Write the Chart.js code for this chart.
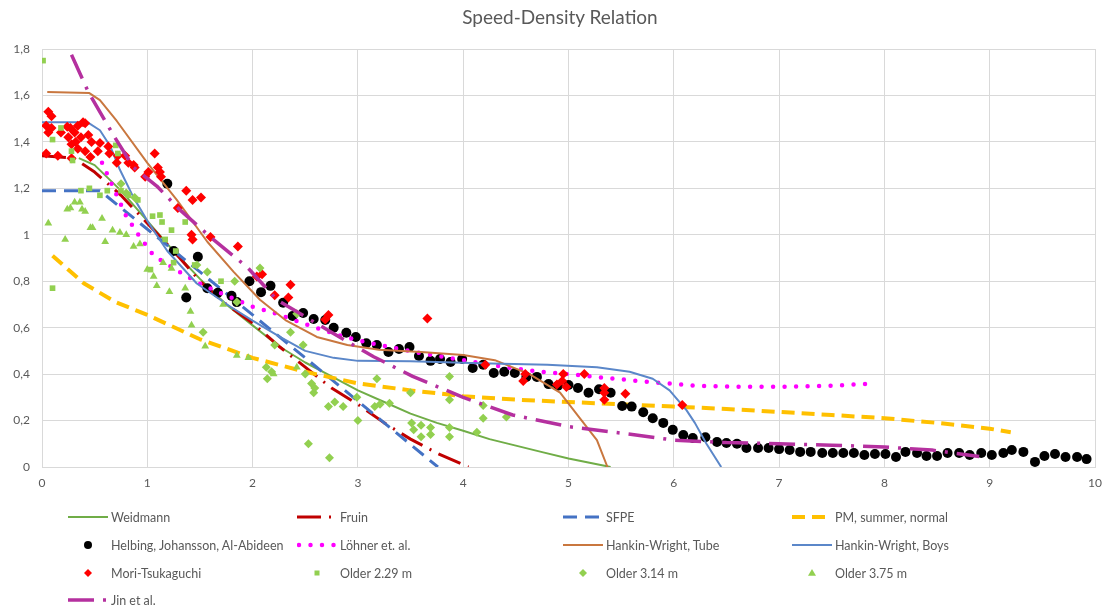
<!DOCTYPE html>
<html>
<head>
<meta charset="utf-8">
<title>Speed-Density Relation</title>
<script src="https://cdn.jsdelivr.net/npm/chart.js@4.4.1/dist/chart.umd.min.js"></script>
<style>
  html, body { margin: 0; padding: 0; background: #ffffff; }
  #wrap { position: relative; width: 1103px; height: 607px; font-family: Lato, "Open Sans", sans-serif; overflow: hidden; }
  #chart { position: absolute; left: 0; top: 0; }
  #title { position: absolute; left: 0; top: 5px; width: 1120px; text-align: center; font-size: 19px; color: #595959; }
  .leg { position: absolute; height: 16px; display: flex; align-items: center; font-size: 12.5px; color: #595959; white-space: nowrap; }
  .leg svg { flex: none; margin-right: 3px; }
</style>
</head>
<body>
<div id="wrap">
  <canvas id="chart" width="1103" height="607"></canvas>
  <div id="title">Speed-Density Relation</div>
  <div id="legend"></div>
</div>
<script>
// ---- axis ticks ----
const xTickLabels = ['0', '1', '2', '3', '4', '5', '6', '7', '8', '9', '10'];
const yTickLabels = ['0', '0,2', '0,4', '0,6', '0,8', '1', '1,2', '1,4', '1,6', '1,8'];

// ---- model curves: [density, speed] ----
const weidmann = [[0.35,1.33],[0.5,1.30],[0.75,1.19],[1,1.06],[1.25,0.93],[1.5,0.81],[1.75,0.70],[2,0.61],[2.25,0.52],[2.5,0.45],[2.75,0.39],[3,0.33],[3.25,0.28],[3.5,0.23],[3.75,0.19],[4,0.156],[4.25,0.12],[4.5,0.092],[4.75,0.064],[5,0.037],[5.2,0.018],[5.4,0]];
const fruin = [[0,1.34],[0.3,1.33],[0.5,1.27],[0.75,1.17],[1,1.05],[1.25,0.93],[1.5,0.80],[1.75,0.70],[2,0.62],[2.25,0.52],[2.5,0.43],[2.75,0.34],[3,0.27],[3.25,0.19],[3.5,0.12],[3.75,0.06],[4.05,0]];
const sfpe = [[0,1.19],[0.55,1.19],[1.5,0.84],[2.5,0.47],[3.76,0]];
const pmSummer = [[0.1,0.91],[0.4,0.79],[0.7,0.71],[1,0.655],[1.5,0.55],[2,0.47],[2.5,0.41],[3,0.36],[3.5,0.33],[4,0.305],[4.5,0.29],[5,0.28],[5.5,0.27],[6,0.26],[6.5,0.25],[7,0.237],[7.5,0.224],[8,0.21],[8.5,0.19],[9,0.165],[9.2,0.15]];
const lohner = [[0.57,1.31],[0.62,1.26],[0.7,1.18],[0.8,1.08],[0.93,0.99],[1.06,0.91],[1.2,0.87],[1.34,0.83],[1.5,0.79],[1.69,0.75],[2,0.69],[2.26,0.655],[2.5,0.615],[2.8,0.57],[3,0.545],[3.3,0.517],[3.6,0.49],[4,0.46],[4.4,0.43],[4.73,0.41],[5,0.40],[5.37,0.383],[5.8,0.365],[6.22,0.35],[6.6,0.346],[7,0.345],[7.5,0.35],[7.9,0.36]];
const hwTube = [[0.05,1.615],[0.45,1.61],[0.55,1.58],[0.71,1.49],[1,1.31],[1.28,1.15],[1.57,0.97],[1.82,0.84],[2.07,0.72],[2.32,0.63],[2.61,0.56],[2.9,0.525],[3.2,0.505],[3.6,0.495],[4,0.482],[4.3,0.46],[4.63,0.40],[4.92,0.32],[5.1,0.215],[5.27,0.116],[5.37,0]];
const hwBoys = [[0,1.485],[0.43,1.485],[0.55,1.45],[0.65,1.38],[0.74,1.28],[0.87,1.16],[1,1.06],[1.19,0.93],[1.47,0.79],[1.79,0.69],[2,0.63],[2.26,0.56],[2.5,0.50],[2.77,0.47],[3,0.457],[3.5,0.455],[4.16,0.447],[4.8,0.44],[5.27,0.43],[5.58,0.41],[5.8,0.38],[5.96,0.33],[6.12,0.245],[6.2,0.19],[6.31,0.10],[6.45,0]];
const jin = [[0.28,1.775],[0.44,1.615],[0.69,1.42],[0.87,1.29],[1.09,1.21],[1.31,1.107],[1.6,0.99],[1.95,0.86],[2.23,0.72],[2.76,0.577],[3.15,0.475],[3.52,0.39],[4,0.30],[4.47,0.224],[5,0.174],[5.5,0.146],[6,0.116],[6.5,0.105],[7,0.10],[7.5,0.094],[8,0.086],[8.45,0.073],[8.9,0.045]];

// ---- measured data: [density, speed] ----
const helbing = [[1.19,1.22],[1.25,0.93],[1.48,0.905],[1.37,0.73],[1.57,0.77],[1.67,0.75],[1.8,0.737],[1.85,0.71],[1.97,0.80],[2.08,0.753],[2.17,0.78],[2.29,0.707],[2.38,0.65],[2.48,0.663],[2.58,0.637],[2.69,0.633],[2.77,0.60],[2.89,0.578],[2.98,0.56],[3.08,0.533],[3.18,0.525],[3.29,0.495],[3.39,0.508],[3.49,0.517],[3.58,0.478],[3.69,0.457],[3.78,0.465],[3.88,0.452],[3.99,0.465],[4.09,0.426],[4.19,0.44],[4.29,0.405],[4.39,0.41],[4.49,0.405],[4.6,0.388],[4.7,0.388],[4.81,0.357],[4.9,0.35],[5.0,0.353],[5.09,0.34],[5.19,0.32],[5.29,0.335],[5.4,0.32],[5.51,0.263],[5.6,0.26],[5.71,0.236],[5.8,0.21],[5.9,0.19],[5.99,0.16],[6.09,0.138],[6.18,0.125],[6.3,0.128],[6.41,0.108],[6.5,0.103],[6.6,0.10],[6.69,0.082],[6.8,0.082],[6.9,0.082],[7.0,0.077],[7.1,0.073],[7.2,0.065],[7.3,0.065],[7.41,0.06],[7.51,0.06],[7.61,0.06],[7.71,0.06],[7.81,0.052],[7.91,0.056],[8.01,0.056],[8.11,0.043],[8.2,0.065],[8.31,0.06],[8.4,0.047],[8.5,0.047],[8.6,0.06],[8.71,0.06],[8.81,0.052],[8.92,0.06],[9.02,0.052],[9.13,0.06],[9.21,0.073],[9.32,0.065],[9.43,0.022],[9.52,0.047],[9.62,0.056],[9.72,0.043],[9.83,0.043],[9.92,0.034]];
const moriTsukaguchi = [[0.06,1.53],[0.09,1.51],[0.04,1.47],[0.09,1.46],[0.06,1.44],[0.18,1.44],[0.24,1.465],[0.27,1.46],[0.31,1.44],[0.34,1.47],[0.39,1.485],[0.41,1.48],[0.25,1.42],[0.28,1.39],[0.32,1.40],[0.37,1.42],[0.44,1.43],[0.47,1.40],[0.55,1.395],[0.34,1.37],[0.41,1.36],[0.46,1.335],[0.53,1.36],[0.63,1.38],[0.64,1.35],[0.04,1.35],[0.15,1.34],[0.28,1.33],[0.71,1.31],[0.72,1.34],[0.79,1.34],[0.82,1.31],[0.87,1.30],[0.88,1.29],[0.98,1.25],[1.01,1.27],[1.07,1.35],[1.1,1.29],[1.12,1.27],[1.13,1.25],[1.37,1.19],[1.43,1.15],[1.51,1.16],[1.29,1.115],[1.42,1.0],[1.43,0.98],[1.6,0.99],[1.86,0.95],[2.04,0.82],[2.09,0.83],[2.21,0.74],[2.36,0.785],[2.34,0.73],[2.72,0.655],[2.69,0.635],[3.66,0.64],[4.21,0.44],[4.59,0.40],[4.57,0.37],[4.95,0.40],[4.94,0.37],[4.89,0.355],[4.98,0.345],[5.15,0.40],[5.34,0.34],[5.34,0.32],[5.34,0.29],[5.54,0.315],[6.08,0.267]];
const older229 = [[0.01,1.75],[0.1,1.41],[0.18,1.46],[0.28,1.36],[0.29,1.32],[0.7,1.385],[0.72,1.35],[0.37,1.19],[0.45,1.2],[0.55,1.17],[0.62,1.19],[0.75,1.19],[0.82,1.17],[0.91,1.15],[1.05,1.08],[1.12,1.085],[1.14,1.055],[1.23,1.02],[1.36,1.055],[0.1,0.77],[1.17,0.98],[1.27,0.93],[1.03,0.85],[1.25,0.88],[1.45,0.87],[1.7,0.80]];
const older314 = [[0.75,1.22],[0.8,1.18],[0.88,1.16],[1.47,0.87],[1.57,0.84],[1.83,0.80],[1.85,0.71],[2.07,0.857],[2.42,0.66],[1.53,0.58],[2.21,0.525],[2.36,0.58],[2.48,0.525],[2.5,0.40],[2.13,0.43],[2.14,0.38],[2.18,0.41],[2.56,0.36],[2.58,0.32],[2.59,0.34],[2.72,0.26],[2.78,0.28],[2.86,0.26],[2.99,0.30],[3.0,0.2],[2.53,0.10],[2.73,0.04],[3.18,0.38],[3.16,0.26],[3.21,0.27],[3.3,0.275],[3.5,0.32],[3.87,0.39],[3.87,0.29],[4.19,0.265],[4.19,0.21],[4.41,0.215],[3.51,0.19],[3.53,0.16],[3.6,0.18],[3.6,0.13],[3.69,0.17],[3.69,0.14],[3.87,0.17],[3.87,0.13],[4.13,0.15]];
const older375 = [[0.06,1.05],[0.22,0.98],[0.24,1.11],[0.27,1.115],[0.31,1.14],[0.36,1.14],[0.38,1.11],[0.41,1.1],[0.46,1.03],[0.48,1.03],[0.57,1.07],[0.6,0.97],[0.67,1.02],[0.74,1.01],[0.8,1.0],[0.87,0.95],[0.93,0.96],[1.0,0.85],[1.06,0.82],[1.09,0.78],[1.21,0.755],[1.15,0.88],[1.23,0.855],[1.36,0.77],[1.41,0.67],[1.42,0.61],[1.55,0.52],[1.72,0.70],[1.85,0.48],[1.96,0.47],[2.2,0.40],[2.42,0.43]];

// ---- series styles ----
const series = [
  { label: 'Weidmann', data: weidmann, kind: 'line', color: '#70AD47', width: 2, dash: [] },
  { label: 'Fruin', data: fruin, kind: 'line', color: '#C00000', width: 3, dash: [24, 8, 2, 8] },
  { label: 'SFPE', data: sfpe, kind: 'line', color: '#4472C4', width: 3, dash: [14, 8] },
  { label: 'PM, summer, normal', data: pmSummer, kind: 'line', color: '#FFC000', width: 4, dash: [13, 7] },
  { label: 'Helbing, Johansson, Al-Abideen', data: helbing, kind: 'point', color: '#000000', shape: 'circle', radius: 5 },
  { label: 'Löhner et. al.', data: lohner, kind: 'dots', color: '#FF00FF', width: 4.5, dash: [0, 11.5] },
  { label: 'Hankin-Wright, Tube', data: hwTube, kind: 'line', color: '#C9773F', width: 2, dash: [] },
  { label: 'Hankin-Wright, Boys', data: hwBoys, kind: 'line', color: '#5B87C9', width: 2, dash: [] },
  { label: 'Mori-Tsukaguchi', data: moriTsukaguchi, kind: 'point', color: '#FF0000', shape: 'rectRot', radius: 5 },
  { label: 'Older 2.29 m', data: older229, kind: 'point', color: '#92D050', shape: 'rect', radius: 4 },
  { label: 'Older 3.14 m', data: older314, kind: 'point', color: '#92D050', shape: 'rectRot', radius: 4.5 },
  { label: 'Older 3.75 m', data: older375, kind: 'point', color: '#92D050', shape: 'triangle', radius: 4.5 },
  { label: 'Jin et al.', data: jin, kind: 'line', color: '#B5309F', width: 3.5, dash: [26, 9, 3, 9] }
];

const datasets = series.map((s, i) => {
  const pts = s.data.map(([x, y]) => ({ x, y }));
  const base = { label: s.label, data: pts, order: series.length - i };
  if (s.kind === 'point') {
    return Object.assign(base, {
      showLine: false, pointStyle: s.shape, pointRadius: s.radius,
      pointBackgroundColor: s.color, pointBorderColor: s.color, pointBorderWidth: 0
    });
  }
  return Object.assign(base, {
    showLine: true, pointRadius: 0, borderColor: s.color, borderWidth: s.width,
    borderDash: s.dash, borderCapStyle: s.kind === 'dots' ? 'round' : 'butt',
    borderJoinStyle: 'round', tension: 0, fill: false
  });
});

new Chart(document.getElementById('chart'), {
  type: 'scatter',
  data: { datasets },
  options: {
    responsive: false,
    animation: false,
    events: [],
    layout: { padding: { left: 0, right: 0, top: 49, bottom: 110 } },
    plugins: { legend: { display: false }, tooltip: { enabled: false }, title: { display: false } },
    scales: {
      x: {
        type: 'linear', min: 0, max: 10,
        afterFit: s => { s.height = 30; s.paddingLeft = 0; s.paddingRight = 8; },
        grid: { color: '#D9D9D9', drawTicks: false },
        border: { color: '#D9D9D9' },
        ticks: {
          stepSize: 1, padding: 9, color: '#595959',
          font: { family: 'Lato', size: 12 },
          callback: v => xTickLabels[Math.round(v)]
        }
      },
      y: {
        type: 'linear', min: 0, max: 1.8,
        afterFit: s => { s.width = 42; },
        grid: { color: '#D9D9D9', drawTicks: false },
        border: { color: '#D9D9D9' },
        ticks: {
          stepSize: 0.2, padding: 12, color: '#595959',
          font: { family: 'Lato', size: 12 },
          callback: v => yTickLabels[Math.round(v / 0.2)]
        }
      }
    }
  }
});

// ---- legend grid (4 columns) ----
const legendCols = [68, 297, 563, 792];
const legendRows = [517, 545, 573, 600];

function sampleSvg(s) {
  const ns = 'http://www.w3.org/2000/svg';
  const svg = document.createElementNS(ns, 'svg');
  svg.setAttribute('width', '40');
  svg.setAttribute('height', '14');
  let el;
  if (s.kind === 'point') {
    const cx = 20, cy = 7, r = Math.min(s.radius, 4);
    if (s.shape === 'circle') {
      el = document.createElementNS(ns, 'circle');
      el.setAttribute('cx', cx); el.setAttribute('cy', cy); el.setAttribute('r', r);
    } else if (s.shape === 'rect') {
      el = document.createElementNS(ns, 'rect');
      el.setAttribute('x', cx - 2.5); el.setAttribute('y', cy - 2.5);
      el.setAttribute('width', 5); el.setAttribute('height', 5);
    } else if (s.shape === 'rectRot') {
      el = document.createElementNS(ns, 'polygon');
      el.setAttribute('points', `${cx},${cy - r} ${cx + r},${cy} ${cx},${cy + r} ${cx - r},${cy}`);
    } else {
      el = document.createElementNS(ns, 'polygon');
      el.setAttribute('points', `${cx},${cy - r} ${cx + r},${cy + r * 0.7} ${cx - r},${cy + r * 0.7}`);
    }
    el.setAttribute('fill', s.color);
  } else {
    el = document.createElementNS(ns, 'line');
    const x1 = s.kind === 'dots' ? 2 : 0;
    el.setAttribute('x1', x1); el.setAttribute('y1', 7);
    el.setAttribute('x2', 40); el.setAttribute('y2', 7);
    el.setAttribute('stroke', s.color);
    el.setAttribute('stroke-width', s.width);
    if (s.dash.length) el.setAttribute('stroke-dasharray', s.dash.join(' '));
    el.setAttribute('stroke-linecap', s.kind === 'dots' ? 'round' : 'butt');
  }
  svg.appendChild(el);
  return svg;
}

const legendBox = document.getElementById('legend');
series.forEach((s, i) => {
  const item = document.createElement('div');
  item.className = 'leg';
  item.style.left = legendCols[i % 4] + 'px';
  item.style.top = (legendRows[Math.floor(i / 4)] - 8) + 'px';
  item.appendChild(sampleSvg(s));
  const txt = document.createElement('span');
  txt.textContent = s.label;
  item.appendChild(txt);
  legendBox.appendChild(item);
});
</script>
</body>
</html>
